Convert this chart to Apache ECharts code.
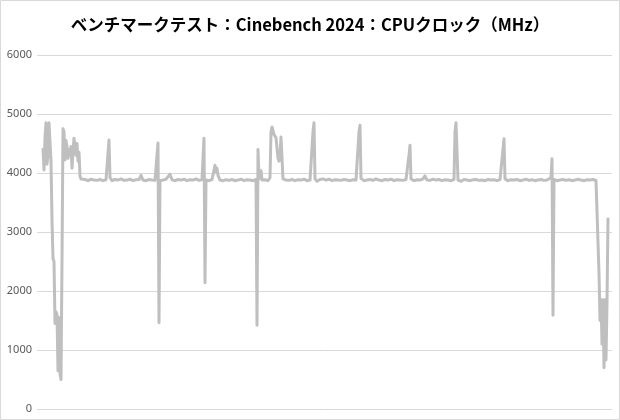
<!DOCTYPE html>
<html>
<head>
<meta charset="utf-8">
<script src="https://cdn.jsdelivr.net/npm/echarts@6/dist/echarts.min.js"></script>
<style>html,body{margin:0;padding:0;background:#fff}#c{width:620px;height:420px}</style>
</head>
<body>
<div id="c"></div>
<script>
const chartTitle = 'ベンチマークテスト：Cinebench 2024：CPUクロック（MHz）';
const yTicks = [0, 1000, 2000, 3000, 4000, 5000, 6000];

// sample index (time) and CPU clock (MHz)
const seconds = [
  6,7,8,9,10,11,12,13,14,15,16,17,18,19,20,21,22,23,24,25,26,27,28,29,30,31,32,33,34,35,36,37,38,39,40,41,42,43,44,45,
  48,51,54,57,60,63,66,69,71,72,73,75,78,81,84,87,90,93,96,99,102,104,106,109,112,115,118,120,121,122,123,126,129,131,133,135,138,141,144,147,150,153,156,159,162,165,166,167,168,169,172,175,177,178,179,180,181,182,183,186,189,192,195,198,201,204,207,210,213,216,219,220,221,222,223,224,225,228,231,
  233,234,235,236,237,238,239,240,241,242,243,244,245,246,249,252,255,258,261,264,267,270,273,275,276,277,278,280,283,286,289,292,295,298,301,304,307,310,313,316,319,321,322,323,324,327,330,333,336,339,342,345,348,351,354,357,360,363,366,369,371,372,373,374,377,380,383,386,388,390,393,396,399,402,405,408,411,414,417,418,419,420,421,424,427,430,433,436,439,442,445,448,451,454,457,460,463,465,466,467,468,471,474,477,480,483,486,489,492,495,498,501,504,507,510,512,514,515,516,517,520,523,526,529,532,535,538,541,544,547,550,553,556,559,561,
  562,563,564,565,566,567,568,569,570,571
];
const clockMHz = [
  4420,4050,4600,4850,4150,4300,4850,4850,4200,3200,2550,2500,1450,1650,1600,650,1550,600,500,2500,4750,4700,4220,4550,4450,4250,4400,4300,4450,4080,4350,4590,4600,4300,4500,4200,4350,3950,3900,3880,
  3890,3870,3895,3880,3875,3890,3870,3885,3900,4560,3920,3870,3890,3880,3900,3875,3880,3895,3870,3885,3890,3960,3880,3870,3890,3880,3875,3890,4510,1460,3870,3880,3895,3880,3980,3885,3870,3890,3880,3895,3870,3885,3880,3900,3875,3885,3900,4590,2140,3880,3870,3890,3900,4130,4020,4080,3960,3950,3880,3870,3885,3875,3890,3870,3880,3895,3870,3885,3880,3870,3890,1420,4400,3900,3870,4040,3880,3885,3870,
  3920,4700,4780,4720,4650,4680,4600,4620,4250,4200,4300,4610,4600,3900,3880,3875,3890,3870,3885,3880,3895,3870,3880,3890,4700,4850,3900,3860,3890,3900,3880,3895,3870,3885,3880,3875,3890,3880,3870,3885,3880,3890,4700,4810,3910,3870,3880,3890,3875,3900,3880,3870,3890,3880,3895,3870,3885,3880,3875,3890,3880,4300,4470,3900,3870,3885,3880,3900,3950,3880,3875,3895,3880,3890,3870,3885,3880,3870,3890,4700,4850,4830,3880,3860,3890,3880,3870,3885,3890,3875,3880,3870,3890,3880,3885,3870,3890,3880,4400,4580,3900,3870,3885,3880,3890,3870,3880,3895,3875,3885,3870,3880,3890,3875,3880,3900,3920,4240,1590,3890,3870,3880,3890,3875,3885,3870,3880,3895,3880,3870,3885,3880,3890,3875,3860,
  2300,1500,1850,1100,1850,700,1850,830,1800,3240
];

const seriesData = seconds.map((t, i) => [t, clockMHz[i]]);

const chart = echarts.init(document.getElementById('c'), null, {renderer: 'canvas'});
chart.setOption({
  animation: false,
  backgroundColor: '#ffffff',
  title: {
    text: chartTitle,
    left: 'center',
    top: 11,
    textStyle: {fontFamily: '"Noto Sans CJK JP", sans-serif', fontSize: 16.5, fontWeight: 'bold', color: '#000000'}
  },
  graphic: [{
    type: 'rect', shape: {x: 0.5, y: 0.5, width: 619, height: 419},
    style: {fill: 'none', stroke: '#d9d9d9', lineWidth: 1}, silent: true
  }],
  grid: {left: 37, right: 8, top: 55, bottom: 11, containLabel: false},
  xAxis: {
    type: 'value', min: 0, max: 575,
    axisLine: {show: false}, axisTick: {show: false}, axisLabel: {show: false}, splitLine: {show: false}
  },
  yAxis: {
    type: 'value', min: yTicks[0], max: yTicks[yTicks.length - 1], interval: 1000,
    axisLine: {show: false}, axisTick: {show: false},
    axisLabel: {color: '#595959', fontSize: 11, fontFamily: '"Noto Sans", sans-serif', margin: 5,
      formatter: v => String(v)},
    splitLine: {lineStyle: {color: '#d9d9d9', width: 1}}
  },
  series: [{
    type: 'line',
    data: seriesData,
    showSymbol: false,
    lineStyle: {color: '#bfbfbf', width: 3, join: 'round'},
    itemStyle: {color: '#bfbfbf'}
  }]
});
</script>
</body>
</html>
